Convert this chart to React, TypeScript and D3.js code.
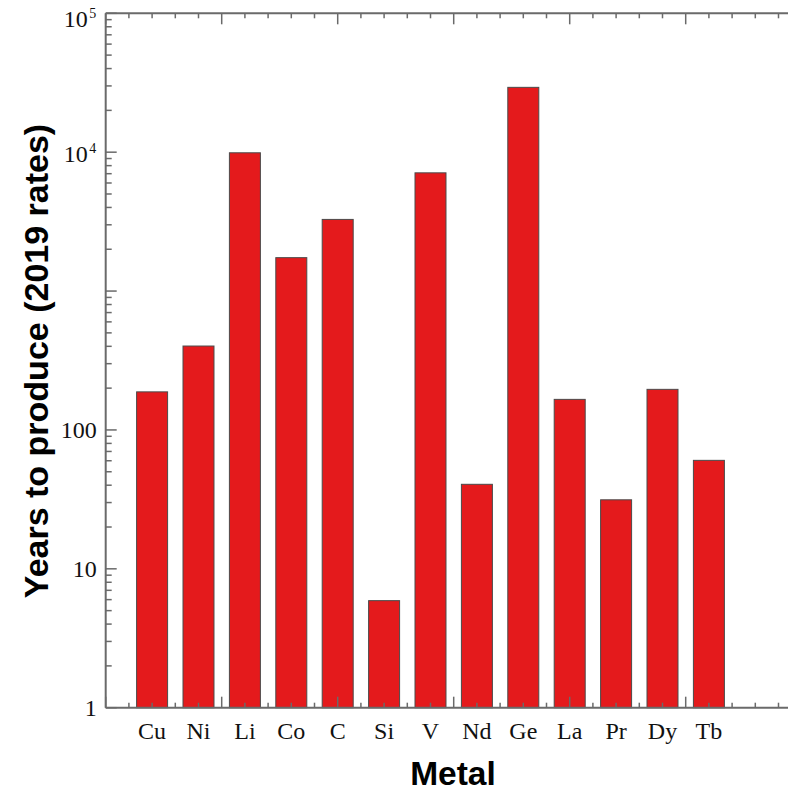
import React from "react";
import * as d3 from "d3";

const categories = ["Cu", "Ni", "Li", "Co", "C", "Si", "V", "Nd", "Ge", "La", "Pr", "Dy", "Tb"];
const positions = [2, 4, 6, 8, 10, 12, 14, 16, 18, 20, 22, 24, 26];
const years = [188, 402, 9900, 1740, 3280, 5.9, 7100, 40.6, 29300, 166, 31.4, 196, 60.4];
const yMajorTicks = [1, 10, 100, 1000, 10000, 100000];
const yTickLabels: (string | [string, string] | null)[] = ["1", "10", "100", null, ["10", "4"], ["10", "5"]];

const W = 788;
const H = 791;

export default function App() {
  const x = d3.scaleLinear().domain([0, 30]).range([105.7, 801.7]);
  const y = d3.scaleLog().domain([1, 100000]).range([707.7, 13.3]);
  const barW = x(1.336) - x(0);

  const xMinor = d3.range(0, 31, 1);
  const yMinor: number[] = [];
  for (let d = 0; d < 5; d++) {
    for (let m = 2; m <= 9; m++) yMinor.push(m * Math.pow(10, d));
  }

  const axisColor = "#6a6a6a";
  const serif = "'Liberation Serif', 'Times New Roman', serif";
  const sans = "'Liberation Sans', Arial, sans-serif";
  const x0 = x(0);
  const yb = y(1);
  const yt = y(100000);

  return (
    <div style={{ position: "absolute", left: 0, top: 0 }}>
      <svg width={W} height={H} style={{ display: "block", background: "#fff" }}>
        {/* bars */}
        {categories.map((c, i) => (
          <rect
            key={c}
            x={x(positions[i]) - barW / 2}
            y={y(years[i])}
            width={barW}
            height={yb - y(years[i])}
            fill="#e41a1c"
            stroke="#4a4a4a"
            strokeWidth={1}
          />
        ))}
        {/* x ticks bottom and top */}
        {xMinor.map((v) => {
          const major = v % 5 === 0;
          const len = major ? 11 : 5;
          return (
            <g key={"xt" + v} stroke={axisColor} strokeWidth={1.5}>
              <line x1={x(v)} x2={x(v)} y1={yb} y2={yb - len} />
              <line x1={x(v)} x2={x(v)} y1={yt} y2={yt + len} />
            </g>
          );
        })}
        {/* y ticks */}
        {yMajorTicks.map((v) => (
          <line key={"ym" + v} x1={x0} x2={x0 + 11} y1={y(v)} y2={y(v)} stroke={axisColor} strokeWidth={1.5} />
        ))}
        {yMinor.map((v) => (
          <line key={"yn" + v} x1={x0} x2={x0 + 6} y1={y(v)} y2={y(v)} stroke={axisColor} strokeWidth={1.5} />
        ))}
        {/* axis lines */}
        <line x1={x0} x2={x0} y1={yt} y2={yb} stroke={axisColor} strokeWidth={2} />
        <line x1={x0} x2={x(30)} y1={yb} y2={yb} stroke={axisColor} strokeWidth={2} />
        <line x1={x0} x2={x(30)} y1={yt} y2={yt} stroke={axisColor} strokeWidth={2} />
        {/* y tick labels */}
        {yMajorTicks.map((v, i) => {
          const lab = yTickLabels[i];
          if (lab === null) return null;
          if (typeof lab === "string") {
            return (
              <text key={"yl" + v} x={x0 - 9} y={y(v) + 8.5} textAnchor="end" fontFamily={serif} fontSize={24} fill="#111">
                {lab}
              </text>
            );
          }
          const base = Math.max(y(v) + 9.4, 26.5);
          return (
            <g key={"yl" + v} fontFamily={serif} fill="#111">
              <text x={x0 - 18} y={base} textAnchor="end" fontSize={24}>
                {lab[0]}
              </text>
              <text x={x0 - 16.5} y={base - 9} textAnchor="start" fontSize={14}>
                {lab[1]}
              </text>
            </g>
          );
        })}
        {/* x tick labels */}
        {categories.map((c, i) => (
          <text key={"xl" + c} x={x(positions[i])} y={739} textAnchor="middle" fontFamily={serif} fontSize={24} fill="#111">
            {c}
          </text>
        ))}
        {/* axis titles */}
        <text x={453} y={785} textAnchor="middle" fontFamily={sans} fontWeight="bold" fontSize={33.5} fill="#000">
          Metal
        </text>
        <text
          transform={`translate(48, 361) rotate(-90)`}
          textAnchor="middle"
          fontFamily={sans}
          fontWeight="bold"
          fontSize={34}
          fill="#000"
        >
          Years to produce (2019 rates)
        </text>
      </svg>
    </div>
  );
}
